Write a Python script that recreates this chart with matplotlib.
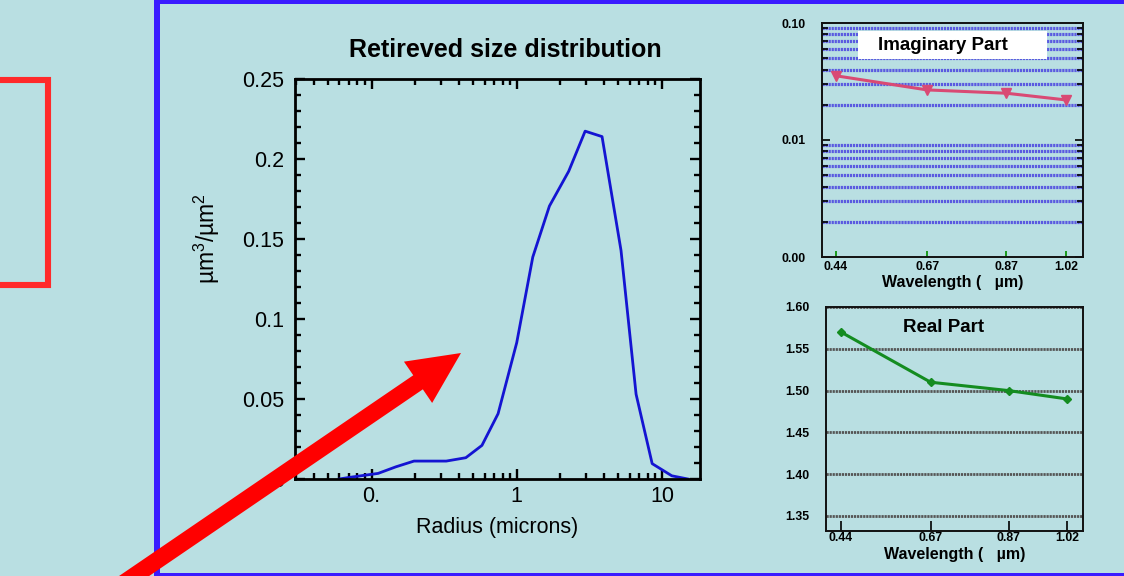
import matplotlib
matplotlib.use("Agg")
import matplotlib.pyplot as plt
from matplotlib.patches import Rectangle, FancyArrow
from matplotlib.ticker import LogLocator, NullFormatter, MultipleLocator

plt.rcParams['font.family'] = ['Liberation Sans', 'DejaVu Sans']
plt.rcParams['mathtext.fontset'] = 'custom'
plt.rcParams['mathtext.rm'] = 'Liberation Sans'
plt.rcParams['mathtext.it'] = 'Liberation Sans:italic'

# ---- data ----
radius = [0.06, 0.0703, 0.111, 0.147, 0.196, 0.327, 0.446, 0.576, 0.744, 1.0,
          1.29, 1.68, 2.28, 2.96, 3.87, 5.23, 6.64, 8.57, 11.7, 15.1]
volume = [0.0, 0.001, 0.0035, 0.0076, 0.0112, 0.0112, 0.0133, 0.021, 0.0408, 0.0852,
          0.1387, 0.1706, 0.1923, 0.2174, 0.214, 0.1428, 0.053, 0.0096, 0.002, 0.0]
main_xticks = [0.1, 1, 10]
main_xticklabels = ['0.', '1', '10']
main_yticks = [0, 0.05, 0.1, 0.15, 0.2, 0.25]
main_yticklabels = ['0', '0.05', '0.1', '0.15', '0.2', '0.25']

wavelength = [0.44, 0.67, 0.87, 1.02]
wl_labels = ['0.44', '0.67', '0.87', '1.02']
imag_part = [0.0354, 0.0268, 0.0251, 0.0220]
imag_yticks = [0.001, 0.01, 0.1]
imag_yticklabels = ['0.00', '0.01', '0.10']
real_part = [1.57, 1.51, 1.50, 1.49]
real_yticks = [1.35, 1.40, 1.45, 1.50, 1.55, 1.60]
real_yticklabels = ['1.35', '1.40', '1.45', '1.50', '1.55', '1.60']

BG = '#b9dfe2'
W, H = 1124, 576
fig = plt.figure(figsize=(W / 100, H / 100), dpi=100, facecolor=BG)


def frac(left, top, right, bottom):
    return [left / W, 1 - bottom / H, (right - left) / W, (bottom - top) / H]


# ---- main plot ----
ax = fig.add_axes(frac(295, 79, 700, 479))
ax.set_facecolor(BG)
ax.plot(radius, volume, color='#1414d2', lw=2.0)
ax.set_xscale('log')
ax.set_xlim(0.0297, 18.3)
ax.set_ylim(0, 0.25)
ax.set_xticks(main_xticks, labels=main_xticklabels)
ax.xaxis.set_minor_locator(LogLocator(subs=range(2, 10)))
ax.xaxis.set_minor_formatter(NullFormatter())
ax.set_yticks(main_yticks, labels=main_yticklabels)
ax.yaxis.set_minor_locator(MultipleLocator(0.01))
for s in ax.spines.values():
    s.set_linewidth(2.0)
ax.tick_params(which='both', direction='in', top=True, right=True, width=1.7,
               labelsize=15.5, colors='black')
ax.tick_params(which='major', length=7.5)
ax.tick_params(which='minor', length=4.5)
ax.tick_params(axis='y', pad=8)
ax.tick_params(axis='x', pad=5)
ax.set_title('Retireved size distribution', fontsize=18, fontweight='bold', pad=16, x=0.52)
ax.set_xlabel('Radius (microns)', fontsize=15.5, labelpad=7)
ax.set_ylabel('µm$^3$/µm$^2$', fontsize=16.5)
ax.yaxis.set_label_coords(-0.18, 0.6)

# ---- imaginary part inset ----
ai = fig.add_axes(frac(822, 23, 1083, 257))
ai.set_facecolor(BG)
ai.set_yscale('log')
ai.set_xlim(0.405, 1.063)
ai.set_ylim(0.001, 0.1)
ai.set_yticks(imag_yticks, labels=imag_yticklabels)
ai.yaxis.set_minor_locator(LogLocator(subs=range(2, 10)))
ai.yaxis.set_minor_formatter(NullFormatter())
ai.yaxis.grid(True, which='minor', color='#5a5ae0', lw=2.3, ls=(0, (0.7, 0.25)))
ai.set_xticks(wavelength, labels=wl_labels)
ai.plot(wavelength, imag_part, color='#d94a74', lw=2.2, marker='v', ms=7, zorder=3)
for s in ai.spines.values():
    s.set_linewidth(1.4)
    s.set_color('#111111')
ai.tick_params(axis='x', direction='in', length=4, width=1.4, color='#1a9a1a',
               labelsize=8.8, pad=3)
ai.tick_params(axis='y', which='both', direction='in', right=True, width=1.2,
               labelsize=8.8, pad=12)
ai.tick_params(axis='y', which='major', length=6)
ai.tick_params(axis='y', which='minor', length=4)
for lbl in ai.get_xticklabels() + ai.get_yticklabels():
    lbl.set_fontweight('bold')
ai.set_xlabel('Wavelength (   µm)', fontsize=11.5, fontweight='bold', labelpad=1)
ai.add_patch(Rectangle((0.138, 0.846), 0.724, 0.12, transform=ai.transAxes,
                       facecolor='white', edgecolor='none', zorder=4))
ai.text(0.4636, 0.902, 'Imaginary Part', transform=ai.transAxes, ha='center',
        va='center', fontsize=13.5, fontweight='bold', zorder=5)

# ---- real part inset ----
ar = fig.add_axes(frac(826, 307, 1083, 531))
ar.set_facecolor(BG)
ar.set_xlim(0.4015, 1.061)
ar.set_ylim(1.332, 1.60)
ar.set_yticks(real_yticks, labels=real_yticklabels)
ar.yaxis.grid(True, which='major', color='#555555', lw=2.0, ls=(0, (0.8, 0.3)))
ar.set_xticks(wavelength, labels=wl_labels)
ar.plot(wavelength, real_part, color='#148c20', lw=2.2, marker='D', ms=4, zorder=3)
for s in ar.spines.values():
    s.set_linewidth(1.4)
    s.set_color('#111111')
ar.tick_params(axis='x', direction='in', length=7, width=1.2, labelsize=8.8, pad=1)
ar.tick_params(axis='y', direction='in', length=0, labelsize=8.8, pad=12)
for lbl in ar.get_xticklabels() + ar.get_yticklabels():
    lbl.set_fontweight('bold')
ar.set_xlabel('Wavelength (   µm)', fontsize=11.5, fontweight='bold', labelpad=2)
ar.text(0.457, 0.907, 'Real Part', transform=ar.transAxes, ha='center',
        va='center', fontsize=13.5, fontweight='bold')

# ---- overlay decorations (border, red box, arrow) ----
ov = fig.add_axes([0, 0, 1, 1], zorder=10)
ov.set_xlim(0, W)
ov.set_ylim(H, 0)
ov.axis('off')
ov.patch.set_alpha(0)
blue = '#3a1cff'
ov.add_patch(Rectangle((154, 0), 6, H, facecolor=blue, edgecolor='none'))
ov.add_patch(Rectangle((154, 0), W - 154, 3.5, facecolor=blue, edgecolor='none'))
ov.add_patch(Rectangle((154, 572.5), W - 154, 4, facecolor=blue, edgecolor='none'))
ov.add_patch(Rectangle((-20, 80), 68, 205, facecolor='none', edgecolor='#ff2a2a',
                       lw=4.4, joinstyle='miter'))
ov.add_artist(FancyArrow(118, 587, 461 - 118, 353 - 587, width=17, head_width=50,
                         head_length=52, length_includes_head=True,
                         facecolor='#ff0000', edgecolor='none'))

fig.savefig('out.png', dpi=100, facecolor=BG)
